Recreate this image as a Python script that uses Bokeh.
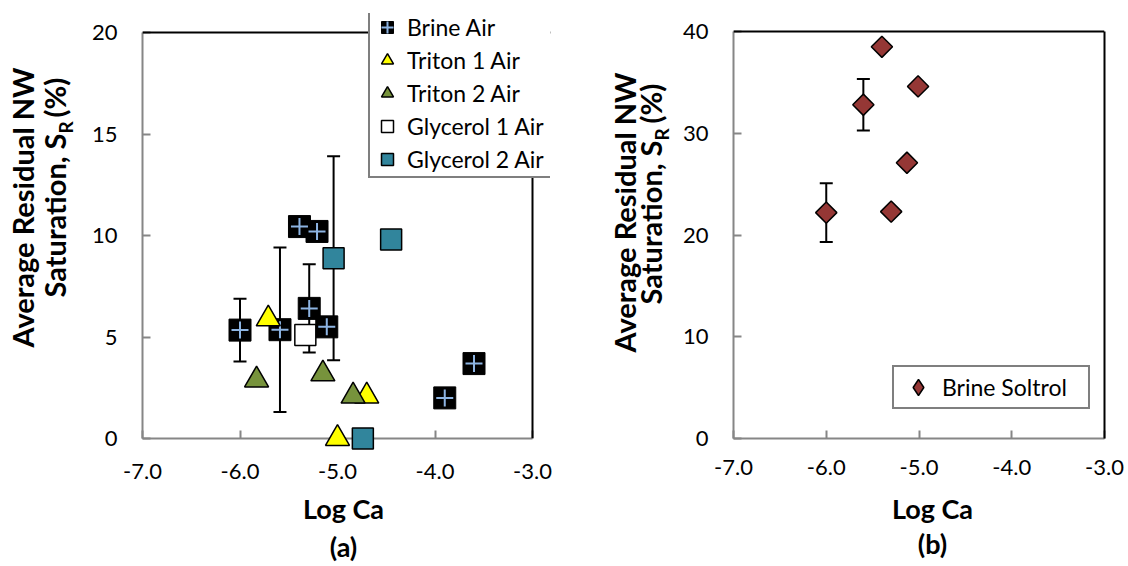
import numpy as np
from bokeh.plotting import figure
from bokeh.layouts import row
from bokeh.core.properties import value
from bokeh.models import (ColumnDataSource, Whisker, TeeHead, Legend, LegendItem,
                          LinearAxis, FixedTicker, PrintfTickFormatter, Range1d, Span)
from bokeh.embed import file_html
from bokeh.resources import INLINE

FONT = "Lato"

# ---------------- data ----------------
x_ticks = [-7.0, -6.0, -5.0, -4.0, -3.0]
left_y_ticks = [0, 5, 10, 15, 20]
right_y_ticks = [0, 10, 20, 30, 40]

brine_air_x = [-6.00, -5.59, -5.39, -5.21, -5.29, -5.11, -3.90, -3.60]
brine_air_y = [5.34, 5.36, 10.44, 10.20, 6.41, 5.50, 2.00, 3.69]
brine_air_err = [1.55, 4.05, 0, 0, 2.17, 0, 0, 0]

triton1_x = [-5.71, -4.70, -5.00]
triton1_y = [5.89, 2.09, 0.00]

triton2_x = [-5.83, -5.15, -4.84]
triton2_y = [2.88, 3.18, 2.09]

glycerol1_x = [-5.33]
glycerol1_y = [5.10]

glycerol2_x = [-5.04, -4.45, -4.74]
glycerol2_y = [8.88, 9.80, 0.00]
glycerol2_err = [5.03, 0, 0]

soltrol_x = [-5.40, -5.01, -5.60, -5.13, -6.00, -5.30]
soltrol_y = [38.5, 34.6, 32.8, 27.1, 22.2, 22.3]
soltrol_err = [0, 0, 2.52, 0, 2.88, 0]

AXIS_GREY = "#868686"
TOP = 13        # frame top (room for the legend that rises above the data area)
BOTTOM = 128    # bottom border (shared by both plots in the row)
FRAME_BOTTOM = 566 - BOTTOM


def style(p, yticks, ylim, x_standoff, y_standoff):
    p.xaxis.ticker = FixedTicker(ticks=x_ticks)
    p.xaxis.formatter = PrintfTickFormatter(format="%.1f")
    p.yaxis.ticker = FixedTicker(ticks=yticks)
    p.xaxis.bounds = (x_ticks[0], x_ticks[-1])
    p.yaxis.bounds = ylim
    for ax in (p.xaxis[0], p.yaxis[0]):
        ax.axis_line_color = AXIS_GREY
        ax.axis_line_width = 2
        ax.major_tick_line_color = AXIS_GREY
        ax.major_tick_line_width = 2
        ax.major_tick_in = 8
        ax.major_tick_out = 0
        ax.minor_tick_line_color = None
        ax.major_label_text_font = FONT
        ax.major_label_text_font_size = "22px"
        ax.major_label_text_color = "black"
    p.xaxis.major_label_standoff = x_standoff
    p.yaxis.major_label_standoff = y_standoff
    p.xgrid.visible = False
    p.ygrid.visible = False
    p.outline_line_color = None
    # black top border of the data area
    p.add_layout(Span(location=ylim[1], dimension="width", line_color="black", line_width=2))


def errbars(p, xs, ys, errs):
    bx = [x for x, e in zip(xs, errs) if e > 0]
    lo = [y - e for y, e in zip(ys, errs) if e > 0]
    hi = [y + e for y, e in zip(ys, errs) if e > 0]
    src = ColumnDataSource(dict(base=bx, lower=lo, upper=hi))
    w = Whisker(source=src, base="base", lower="lower", upper="upper", dimension="height",
                line_color="black", line_width=2,
                upper_head=TeeHead(size=13, line_color="black", line_width=2),
                lower_head=TeeHead(size=13, line_color="black", line_width=2))
    p.add_layout(w)


class PxMap:
    """pixel offsets from the frame's bottom-left corner -> data coordinates"""
    def __init__(self, x0, y0, px_per_x, px_per_y):
        self.x0, self.y0, self.sx, self.sy = x0, y0, px_per_x, px_per_y

    def __call__(self, dx, dy):
        return self.x0 + dx / self.sx, self.y0 + dy / self.sy


def put_text(p, m, dx, dy, txt, size, align, angle=0.0):
    x, y = m(dx, dy)
    p.text(x=[x], y=[y], text=[txt], angle=angle, text_font=value(FONT),
           text_font_style="bold", text_font_size=size,
           text_align=align, text_baseline="alphabetic", text_color="black",
           level="overlay")


def ytitle(p, m, x1, y1, x2, yanchor, ypct):
    a = np.pi / 2
    put_text(p, m, x1, y1, "Average Residual NW", "29px", "center", a)
    put_text(p, m, x2, yanchor, "Saturation, S", "29px", "right", a)
    put_text(p, m, x2 + 11, yanchor, "R", "19px", "left", a)
    put_text(p, m, x2, ypct, "(%)", "29px", "left", a)


def xtitle(p, m, x, y1, y2, tag):
    put_text(p, m, x, y1, "Log Ca", "27px", "center")
    put_text(p, m, x, y2, tag, "27px", "center")


# ---------------- left figure ----------------
L_W, L_H = 390, FRAME_BOTTOM - 32          # data area in px
l_sx = L_W / 4.0
l_sy = L_H / 20.0
p1 = figure(width=560, height=566, output_backend="svg", toolbar_location=None,
            x_range=Range1d(-7, -3 + 18 / l_sx), y_range=Range1d(0, 20 + (32 - TOP) / l_sy),
            min_border_left=142, min_border_right=10, min_border_top=TOP,
            min_border_bottom=BOTTOM)
style(p1, left_y_ticks, (0, 20), 25, 25)
p1.add_layout(Span(location=-3, dimension="height", line_color="black", line_width=2))
m1 = PxMap(-7, 0, l_sx, l_sy)

errbars(p1, brine_air_x, brine_air_y, brine_air_err)
errbars(p1, glycerol2_x, glycerol2_y, glycerol2_err)

lvl = "annotation"
r_b1 = p1.scatter(brine_air_x, brine_air_y, marker="square", size=22, fill_color="black",
                  line_color="black", line_width=1, level=lvl)
r_b2 = p1.scatter(brine_air_x, brine_air_y, marker="cross", size=17, line_color="#8DB4E2",
                  line_width=2, level=lvl)
r_t1 = p1.scatter(triton1_x, triton1_y, marker="triangle", size=24, fill_color="#FFFF00",
                  line_color="black", line_width=1.5, level=lvl)
r_t2 = p1.scatter(triton2_x, triton2_y, marker="triangle", size=24, fill_color="#77933C",
                  line_color="black", line_width=1.5, level=lvl)
r_g1 = p1.scatter(glycerol1_x, glycerol1_y, marker="square", size=21, fill_color="white",
                  line_color="black", line_width=1.5, level=lvl)
r_g2 = p1.scatter(glycerol2_x, glycerol2_y, marker="square", size=21, fill_color="#31859C",
                  line_color="black", line_width=1.5, level=lvl)

leg1 = Legend(items=[
    LegendItem(label="Brine Air", renderers=[r_b1, r_b2]),
    LegendItem(label="Triton 1 Air", renderers=[r_t1]),
    LegendItem(label="Triton 2 Air", renderers=[r_t2]),
    LegendItem(label="Glycerol 1 Air", renderers=[r_g1]),
    LegendItem(label="Glycerol 2 Air", renderers=[r_g2]),
], location=(226, FRAME_BOTTOM - 178), padding=2, spacing=3, glyph_width=30, glyph_height=30,
    label_standoff=5, label_width=143, margin=0,
    label_text_font=FONT, label_text_font_size="23px", label_text_color="black",
    border_line_color="black", border_line_width=2, background_fill_alpha=1)
p1.add_layout(leg1)

ytitle(p1, m1, -120, FRAME_BOTTOM - 207, -88, FRAME_BOTTOM - 133, FRAME_BOTTOM - 117)
xtitle(p1, m1, 201, -70, -108, "(a)")

# ---------------- right figure ----------------
R_W, R_H = 371, FRAME_BOTTOM - 31
r_sx = R_W / 4.0
r_sy = R_H / 40.0
p2 = figure(width=568, height=566, output_backend="svg", toolbar_location=None,
            x_range=Range1d(-7, -3), y_range=Range1d(0, 40 + (31 - TOP) / r_sy),
            min_border_left=173, min_border_right=24, min_border_top=TOP,
            min_border_bottom=BOTTOM)
style(p2, right_y_ticks, (0, 40), 21, 25)
p2.add_layout(LinearAxis(ticker=FixedTicker(ticks=[]), bounds=(0, 40), axis_line_color="black",
                         axis_line_width=2, major_tick_line_color=None,
                         minor_tick_line_color=None, major_label_text_font_size="0px",
                         major_label_standoff=0), "right")
m2 = PxMap(-7, 0, r_sx, r_sy)

errbars(p2, soltrol_x, soltrol_y, soltrol_err)
r_s = p2.scatter(soltrol_x, soltrol_y, marker="square", angle=np.pi / 4, size=15,
                 fill_color="#953735", line_color="black", line_width=1.5, level=lvl)
# legend swatch (diamond shape, same series)
r_s_leg = p2.scatter(soltrol_x, soltrol_y, marker="diamond", size=16,
                     fill_color="#953735", line_color="black", line_width=1.5, visible=False)

leg2 = Legend(items=[LegendItem(label="Brine Soltrol", renderers=[r_s_leg])],
              location=(159, FRAME_BOTTOM - 409), padding=0, spacing=0, glyph_width=48,
              glyph_height=40, label_standoff=0, label_width=146, margin=0,
              label_text_font=FONT, label_text_font_size="23px", label_text_color="black",
              border_line_color="black", border_line_width=2, background_fill_alpha=1)
p2.add_layout(leg2)

ytitle(p2, m2, -109, FRAME_BOTTOM - 212, -83, FRAME_BOTTOM - 140, FRAME_BOTTOM - 123)
xtitle(p2, m2, 199, -70, -105, "(b)")

layout = row(p1, p2)
open("out.html", "w").write(file_html(layout, INLINE))
